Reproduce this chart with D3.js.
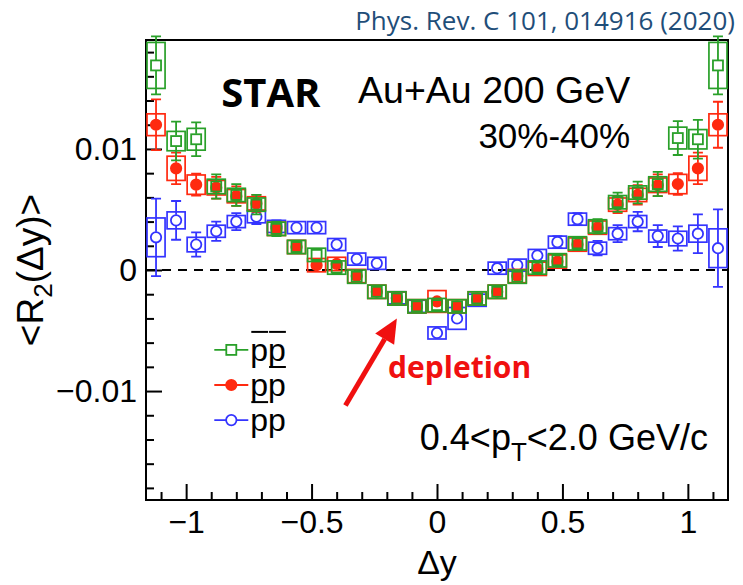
<!DOCTYPE html>
<html>
<head>
<meta charset="utf-8">
<script src="https://cdn.jsdelivr.net/npm/d3@7"></script>
<style>
body { margin: 0; background: #fff; }
svg text { font-family: "Liberation Sans", Arial, sans-serif; fill: #000; }
</style>
</head>
<body>
<svg id="chart" width="743" height="585"></svg>
<script>
// bin centres in delta-y
const dy = [-1.12, -1.04, -0.96, -0.88, -0.80, -0.72, -0.64, -0.56, -0.48, -0.40, -0.32, -0.24, -0.16, -0.08, 0,
  0.08, 0.16, 0.24, 0.32, 0.40, 0.48, 0.56, 0.64, 0.72, 0.80, 0.88, 0.96, 1.04, 1.12];

// <R2> values, in units of 1e-3
const r2PbarPbar = [16.9, 10.65, 10.8, 6.9, 6.2, 5.4, 3.4, 1.9, 1.25, 0.2, -0.55, -1.8, -2.35, -3.0, -2.9,
  -3.0, -2.35, -1.8, -0.55, 0.2, 0.8, 2.2, 3.6, 5.6, 6.4, 7.1, 10.9, 10.8, 16.9];
const statPbarPbar = [2.4, 1.6, 1.4, 1.0, 0.9, 0.8, 0.6, 0.5, 0.5, 0.5, 0.4, 0.4, 0.4, 0.4, 0.4,
  0.4, 0.4, 0.4, 0.4, 0.5, 0.5, 0.5, 0.6, 0.8, 0.9, 1.0, 1.4, 1.6, 2.4];
const sysPbarPbar = [1.9, 0.8, 0.9, 0.6, 0.55, 0.55, 0.55, 0.55, 0.55, 0.55, 0.55, 0.55, 0.55, 0.55, 0.55,
  0.55, 0.55, 0.55, 0.55, 0.55, 0.55, 0.55, 0.55, 0.55, 0.55, 0.6, 0.9, 0.8, 1.9];

const r2PPbar = [12.0, 8.4, 7.05, 6.8, 6.1, 5.5, 3.4, 1.9, 0.4, 0.5, -0.5, -1.8, -2.35, -3.0, -2.6,
  -3.0, -2.35, -1.8, -0.5, 0.1, 0.7, 2.1, 3.5, 5.4, 6.2, 7.0, 7.1, 8.4, 12.0];
const statPPbar = [2.1, 1.3, 0.9, 0.9, 0.8, 0.7, 0.5, 0.5, 0.4, 0.4, 0.4, 0.4, 0.4, 0.4, 0.4,
  0.4, 0.4, 0.4, 0.4, 0.4, 0.4, 0.5, 0.5, 0.7, 0.8, 0.9, 0.9, 1.3, 1.9];
const sysPPbar = [0.9, 1.0, 0.8, 0.6, 0.55, 0.55, 0.55, 0.55, 0.55, 0.55, 0.55, 0.55, 0.55, 0.55, 0.9,
  0.55, 0.55, 0.55, 0.55, 0.55, 0.55, 0.55, 0.55, 0.55, 0.55, 0.6, 0.8, 1.0, 0.9];

const r2PbarP = [2.7, 4.1, 2.1, 3.2, 4.0, 4.4, 3.6, 3.5, 3.5, 2.1, 0.9, 0.55, -2.3, -3.0, -5.2,
  -4.0, -2.5, 0.15, 0.4, 1.2, 2.3, 4.2, 1.8, 3.0, 4.0, 2.8, 2.6, 3.0, 1.8];
const statPbarP = [3.2, 1.6, 1.0, 0.8, 0.7, 0.6, 0.5, 0.4, 0.4, 0.4, 0.4, 0.4, 0.4, 0.4, 0.4,
  0.4, 0.4, 0.4, 0.4, 0.4, 0.5, 0.5, 0.6, 0.7, 0.8, 0.9, 1.0, 1.6, 3.2];
const sysPbarP = [1.6, 0.7, 0.6, 0.5, 0.5, 0.5, 0.5, 0.5, 0.5, 0.5, 0.5, 0.5, 0.5, 0.5, 0.5,
  0.9, 0.5, 0.5, 0.5, 0.5, 0.5, 0.5, 0.5, 0.5, 0.5, 0.5, 0.6, 0.7, 1.6];

// axis ticks
const xMajor = [-1, -0.5, 0, 0.5, 1];
const xLabels = ["\u22121", "\u22120.5", "0", "0.5", "1"];
const yMajor = [-0.01, 0, 0.01];
const yLabels = ["\u22120.01", "0", "0.01"];

const green = "#29a029", red = "#ff2a10", blue = "#3434ff";

const svg = d3.select("#chart");
const x = d3.scaleLinear().domain([-1.16, 1.16]).range([146, 728]);
const y = d3.scaleLinear().domain([-0.019, 0.019]).range([500, 40]);

const xMinor = d3.range(-11, 12).map(d => d / 10).filter(d => Math.abs(d * 2 % 1) > 1e-9);
const yMinor = d3.range(-9, 10).map(d => d * 0.002).filter(d => Math.abs(d) > 1e-9 && Math.abs(Math.abs(d) - 0.01) > 1e-9);

// x axis
svg.append("g").attr("transform", "translate(0,500)")
  .call(d3.axisBottom(x).tickValues(xMinor).tickSize(-8).tickSizeOuter(0).tickFormat(""))
  .call(g => g.select(".domain").remove());
svg.append("g").attr("transform", "translate(0,500)")
  .call(d3.axisBottom(x).tickValues(xMajor).tickSize(-16).tickSizeOuter(0).tickPadding(10)
    .tickFormat((d, i) => xLabels[i]))
  .call(g => g.select(".domain").remove());

// y axis
svg.append("g").attr("transform", "translate(146,0)")
  .call(d3.axisLeft(y).tickValues(yMinor).tickSize(-8).tickSizeOuter(0).tickFormat(""))
  .call(g => g.select(".domain").remove());
svg.append("g").attr("transform", "translate(146,0)")
  .call(d3.axisLeft(y).tickValues(yMajor).tickSize(-16).tickSizeOuter(0).tickPadding(9)
    .tickFormat((d, i) => yLabels[i]))
  .call(g => g.select(".domain").remove());

svg.selectAll(".tick line").attr("stroke", "#000").attr("stroke-width", 2);
svg.selectAll(".tick text").attr("font-size", 32).attr("font-family", "Liberation Sans, Arial, sans-serif").attr("fill", "#000");

// frame
svg.append("rect")
  .attr("x", x(-1.16)).attr("y", y(0.019))
  .attr("width", x(1.16) - x(-1.16)).attr("height", y(-0.019) - y(0.019))
  .attr("fill", "none").attr("stroke", "#000").attr("stroke-width", 2);

// zero line
svg.append("line")
  .attr("x1", x(-1.16)).attr("x2", x(1.16)).attr("y1", y(0)).attr("y2", y(0))
  .attr("stroke", "#000").attr("stroke-width", 2).attr("stroke-dasharray", "9,7");

function drawSeries(vals, stat, sys, color, marker) {
  const pts = dy.map((d, i) => ({ x: d, v: vals[i] / 1000, s: stat[i] / 1000, e: sys[i] / 1000 }));
  const g = svg.append("g");
  // systematic boxes
  g.selectAll("rect.sys").data(pts).join("rect")
    .attr("x", d => x(d.x - 0.036)).attr("width", d => x(d.x + 0.036) - x(d.x - 0.036))
    .attr("y", d => y(d.v + d.e)).attr("height", d => y(d.v - d.e) - y(d.v + d.e))
    .attr("fill", "none").attr("stroke", color).attr("stroke-width", 1.7);
  // stat bars, outside the marker
  const r = 5.5;
  g.selectAll("path.stat").data(pts).join("path")
    .attr("d", d => {
      const cx = x(d.x), cy = y(d.v), top = y(d.v + d.s), bot = y(d.v - d.s);
      let p = "";
      if (cy - top > r) p += `M${cx},${cy - r}V${top}M${cx - 5},${top}H${cx + 5}`;
      if (bot - cy > r) p += `M${cx},${cy + r}V${bot}M${cx - 5},${bot}H${cx + 5}`;
      return p;
    })
    .attr("fill", "none").attr("stroke", color).attr("stroke-width", 1.8);
  drawMarkers(g, pts.map(d => [x(d.x), y(d.v)]), color, marker);
}

function drawMarkers(g, xy, color, marker) {
  if (marker === "square") {
    g.selectAll("rect.m").data(xy).join("rect")
      .attr("x", d => d[0] - 5).attr("y", d => d[1] - 5).attr("width", 10).attr("height", 10)
      .attr("fill", "none").attr("stroke", color).attr("stroke-width", 1.8);
  } else {
    g.selectAll("circle.m").data(xy).join("circle")
      .attr("cx", d => d[0]).attr("cy", d => d[1]).attr("r", 5.2)
      .attr("fill", marker === "dot" ? color : "none")
      .attr("stroke", color).attr("stroke-width", 1.8);
  }
}

drawSeries(r2PbarP, statPbarP, sysPbarP, blue, "circle");
drawSeries(r2PPbar, statPPbar, sysPPbar, red, "dot");
drawSeries(r2PbarPbar, statPbarPbar, sysPbarPbar, green, "square");

// legend
const legend = [
  { color: green, marker: "square", bars: [true, true], v: -0.0066 },
  { color: red, marker: "dot", bars: [false, true], v: -0.0095 },
  { color: blue, marker: "circle", bars: [true, false], v: -0.0124 }
];
legend.forEach(l => {
  const lx = x(-0.82), ly = y(l.v);
  const g = svg.append("g");
  g.append("line").attr("x1", lx - 17).attr("x2", lx + 17).attr("y1", ly).attr("y2", ly)
    .attr("stroke", l.color).attr("stroke-width", 1.8);
  drawMarkers(g, [[lx, ly]], l.color, l.marker);
  if (l.marker === "square") g.select("rect").attr("fill", "#fff");
  if (l.marker === "circle") g.select("circle").attr("fill", "#fff");
  let tx = lx + 19;
  l.bars.forEach(b => {
    const t = g.append("text").attr("x", tx).attr("y", ly + 11).attr("font-size", 32).text("p");
    const w = t.node().getComputedTextLength();
    if (b) g.append("line").attr("x1", tx + 1).attr("x2", tx + w).attr("y1", ly - 18).attr("y2", ly - 18)
      .attr("stroke", "#000").attr("stroke-width", 2);
    tx += w;
  });
});

// labels
svg.append("text").attr("x", 735).attr("y", 30).attr("text-anchor", "end")
  .style("font-family", "'Open Sans', 'Noto Sans', sans-serif").style("fill", "#1f4e79")
  .attr("font-size", 26).text("Phys. Rev. C 101, 014916 (2020)");

svg.append("text").attr("x", x(-0.86)).attr("y", y(0.0135))
  .style("font-family", "'Open Sans', 'Noto Sans', sans-serif").attr("font-weight", "bold")
  .attr("font-size", 40).text("STAR");

svg.append("text").attr("x", x(0.77)).attr("y", y(0.0138)).attr("text-anchor", "end")
  .attr("font-size", 37.5).text("Au+Au 200 GeV");
svg.append("text").attr("x", x(0.77)).attr("y", y(0.0101)).attr("text-anchor", "end")
  .attr("font-size", 35).text("30%-40%");

const pt = svg.append("text").attr("x", x(1.08)).attr("y", y(-0.0149)).attr("text-anchor", "end")
  .attr("font-size", 36);
pt.append("tspan").text("0.4<p");
pt.append("tspan").attr("dy", 11).attr("font-size", 26).text("T");
pt.append("tspan").attr("dy", -11).text("<2.0 GeV/c");

// y title
const yt = svg.append("text").attr("transform", `translate(43,${y(0)}) rotate(-90)`)
  .attr("text-anchor", "middle").attr("font-size", 37);
yt.append("tspan").text("<R");
yt.append("tspan").attr("dy", 9).attr("font-size", 26).text("2");
yt.append("tspan").attr("dy", -9).text("(\u0394y)>");

// x title
svg.append("text").attr("x", x(0)).attr("y", 574).attr("text-anchor", "middle")
  .attr("font-size", 34).text("\u0394y");

// depletion arrow
const ax0 = x(-0.365), ay0 = y(-0.0112), ax1 = x(-0.16), ay1 = y(-0.004);
const ang = Math.atan2(ay1 - ay0, ax1 - ax0);
const hl = 24, hw = 11;
const bx = ax1 - hl * Math.cos(ang), by = ay1 - hl * Math.sin(ang);
svg.append("line").attr("x1", ax0).attr("y1", ay0).attr("x2", bx).attr("y2", by)
  .attr("stroke", "#f01010").attr("stroke-width", 5);
svg.append("path")
  .attr("d", `M${ax1},${ay1}L${bx - hw * Math.sin(ang)},${by + hw * Math.cos(ang)}L${bx + hw * Math.sin(ang)},${by - hw * Math.cos(ang)}Z`)
  .attr("fill", "#f01010");

svg.append("text").attr("x", x(-0.195)).attr("y", y(-0.0089))
  .style("font-family", "'Open Sans', 'Noto Sans', sans-serif").attr("font-weight", "bold")
  .style("fill", "#f01010").attr("font-size", 30).text("depletion");
</script>
</body>
</html>
